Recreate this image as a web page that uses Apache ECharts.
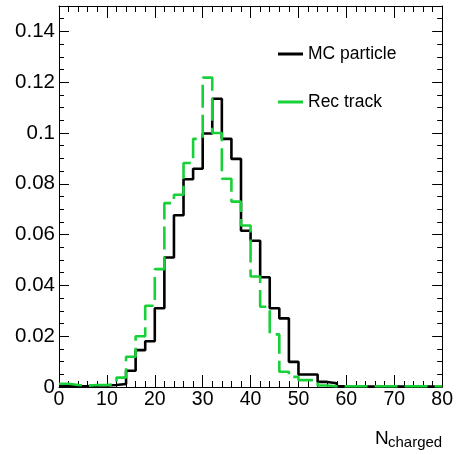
<!DOCTYPE html>
<html>
<head>
<meta charset="utf-8">
<script src="https://cdn.jsdelivr.net/npm/echarts@6/dist/echarts.min.js"></script>
<style>
html,body{margin:0;padding:0;background:#fff;}
#chart{width:456px;height:455px;}
</style>
</head>
<body>
<div id="chart"></div>
<script>
// Bin lower edges (bin width 2), N_charged from 0 to 80
const binEdges = [0,2,4,6,8,10,12,14,16,18,20,22,24,26,28,30,32,34,36,38,40,42,44,46,48,50,52,54,56,58,60,62,64,66,68,70,72,74,76,78];
const mcParticle = [0.0005,0.0003,0.0003,0.0006,0.0006,0.0008,0.0012,0.0064,0.0145,0.018,0.031,0.051,0.0676,0.0818,0.0859,0.0998,0.1135,0.0977,0.0898,0.0615,0.0576,0.0432,0.031,0.027,0.0099,0.0049,0.0049,0.002,0.0015,0.0003,0.0002,0.0002,0.0002,0.0002,0.0002,0.0002,0.0002,0.0002,0.0002,0.0002];
const recTrack = [0.0013,0.0008,0.0005,0.0008,0.0008,0.0012,0.0037,0.0119,0.020,0.032,0.0464,0.0724,0.0757,0.0882,0.0977,0.1218,0.100,0.082,0.073,0.0636,0.0435,0.0316,0.0207,0.006,0.004,0.0027,0.0027,0.0006,0.0003,0.0003,0.0003,0.0003,0.0003,0.0003,0.0003,0.0003,0.0003,0.0003,0.0003,0.0003];
const xTicks = {min:0, max:80, interval:10};
const yTicks = {min:0, max:0.15, interval:0.02, minorInterval:0.005};
const seriesNames = ['MC particle','Rec track'];

function histData(vals){
  const d = binEdges.map((e,i)=>[e, vals[i]]);
  d.push([xTicks.max, vals[vals.length-1]]);
  return d;
}

const font = 'Liberation Sans, Arial, Helvetica, sans-serif';
const chart = echarts.init(document.getElementById('chart'), null, {renderer:'canvas'});

function xAx(pos, labels){
  return {
    type:'value', position:pos, min:xTicks.min, max:xTicks.max, interval:xTicks.interval,
    axisLine:{show:true, onZero:false, lineStyle:{color:'#000', width:1}},
    axisTick:{show:true, inside:true, length:12, lineStyle:{color:'#000', width:1}},
    minorTick:{show:true, splitNumber:5, length:6, lineStyle:{color:'#000', width:1}},
    splitLine:{show:false}, minorSplitLine:{show:false},
    axisLabel:{show:labels, color:'#000', fontSize:19.5, fontFamily:font, margin:3}
  };
}
function yAx(pos, interval, len, labels, line){
  return {
    type:'value', position:pos, min:yTicks.min, max:yTicks.max, interval:interval, offset:0,
    axisLine:{show:line, onZero:false, lineStyle:{color:'#000', width:1}},
    axisTick:{show:true, inside:true, length:len, lineStyle:{color:'#000', width:1}},
    splitLine:{show:false},
    axisLabel:{show:labels, color:'#000', fontSize:20.5, fontFamily:font, margin:4, showMaxLabel:false}
  };
}

const option = {
  backgroundColor:'#fff',
  animation:false,
  grid:{left:59, right:13, top:6, bottom:68, containLabel:false},
  xAxis:[xAx('bottom', true), xAx('top', false)],
  yAxis:[
    yAx('left', yTicks.interval, 10, true, true),
    yAx('left', yTicks.minorInterval, 5, false, false),
    yAx('right', yTicks.interval, 10, false, true),
    yAx('right', yTicks.minorInterval, 5, false, false)
  ],
  legend:[
    {data:[{name:seriesNames[0], icon:'rect'}], left:278, top:44, padding:0, itemWidth:25, itemHeight:3, itemGap:7,
     textStyle:{fontSize:17.5, fontFamily:font, color:'#000', lineHeight:20}, selectedMode:false},
    {data:[{name:seriesNames[1], icon:'rect'}], left:278, top:92, padding:0, itemWidth:25, itemHeight:3, itemGap:7,
     textStyle:{fontSize:17.5, fontFamily:font, color:'#000', lineHeight:20}, selectedMode:false}
  ],
  graphic:[
    {type:'text', left:375, top:429, style:{text:'N', fontSize:19, fontFamily:font, fill:'#000'}},
    {type:'text', left:388, top:435, style:{text:'charged', fontSize:15, fontFamily:font, fill:'#000'}}
  ],
  series:[
    {name:seriesNames[0], type:'line', step:'end', xAxisIndex:0, yAxisIndex:0, data:histData(mcParticle),
     symbol:'none', lineStyle:{color:'#000', width:2.6}, itemStyle:{color:'#000'}, z:2},
    {name:seriesNames[1], type:'line', step:'end', xAxisIndex:0, yAxisIndex:0, data:histData(recTrack),
     symbol:'none', lineStyle:{color:'#18d038', width:2.6, type:[23,7]}, itemStyle:{color:'#18d038'}, z:3}
  ]
};
chart.setOption(option);
</script>
</body>
</html>
